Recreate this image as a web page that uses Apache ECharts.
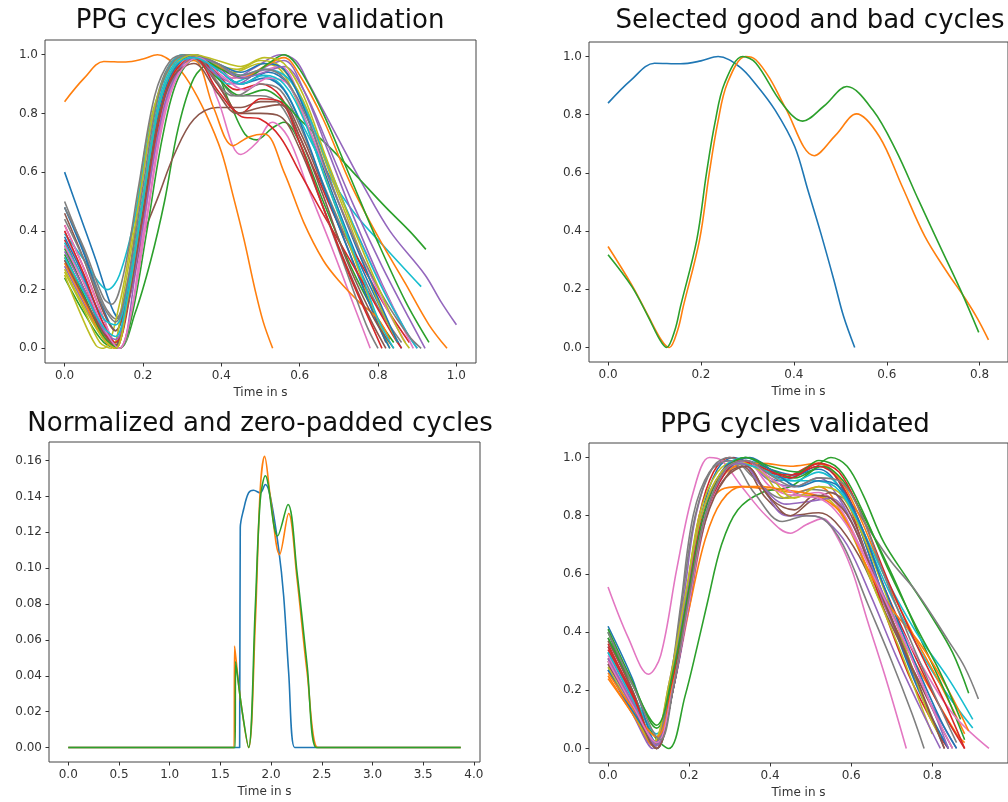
<!DOCTYPE html>
<html>
<head>
<meta charset="utf-8">
<script src="https://cdn.jsdelivr.net/npm/echarts@6/dist/echarts.min.js"></script>
<style>
  html, body { margin: 0; padding: 0; background: #fff; }
  #chart { width: 1008px; height: 802px; }
</style>
</head>
<body>
<div id="chart"></div>
<script>
// matplotlib tab10
const palette = ['#1f77b4', '#ff7f0e', '#2ca02c', '#d62728', '#9467bd', '#8c564b', '#e377c2', '#7f7f7f', '#bcbd22', '#17becf'];

const titles = ['PPG cycles before validation', 'Selected good and bad cycles', 'Normalized and zero-padded cycles', 'PPG cycles validated'];
const xName = 'Time in s';

// tick labels
const unitTicks = [0, 0.2, 0.4, 0.6, 0.8, 1.0];
const shortTicks = [0, 0.2, 0.4, 0.6, 0.8];
const paddedXTicks = [0, 0.5, 1.0, 1.5, 2.0, 2.5, 3.0, 3.5, 4.0];
const paddedYTicks = [0, 0.02, 0.04, 0.06, 0.08, 0.10, 0.12, 0.14, 0.16];

// top left: every detected cycle, [time, amplitude]
const beforeCycles = [
  [[0,0.6],[0.04,0.45],[0.08,0.3],[0.12,0.14],[0.14,0.1],[0.17,0.2],[0.2,0.45],[0.24,0.78],[0.28,0.95],[0.33,1],[0.39,0.96],[0.45,0.9],[0.52,0.94],[0.57,0.9],[0.62,0.76],[0.68,0.54],[0.75,0.3],[0.82,0.1],[0.86,0]],
  [[0,0.84],[0.05,0.92],[0.1,0.977],[0.156,0.975],[0.2,0.985],[0.237,1],[0.282,0.966],[0.318,0.905],[0.36,0.8],[0.4,0.67],[0.43,0.52],[0.458,0.37],[0.486,0.2],[0.507,0.09],[0.531,0]],
  [[0,0.24],[0.05,0.12],[0.1,0.02],[0.14,0],[0.18,0.12],[0.22,0.3],[0.255,0.5],[0.29,0.75],[0.33,0.92],[0.37,0.97],[0.42,0.84],[0.46,0.73],[0.49,0.71],[0.53,0.75],[0.56,0.77],[0.6,0.7],[0.66,0.5],[0.73,0.28],[0.8,0.1],[0.84,0.02]],
  [[0,0.42],[0.05,0.27],[0.1,0.1],[0.13,0.01],[0.16,0.15],[0.2,0.45],[0.24,0.78],[0.28,0.95],[0.33,1],[0.38,0.95],[0.44,0.88],[0.5,0.9],[0.55,0.86],[0.6,0.72],[0.64,0.6],[0.7,0.42],[0.76,0.28],[0.82,0.14],[0.88,0.02]],
  [[0,0.3],[0.05,0.17],[0.1,0.05],[0.14,0],[0.18,0.25],[0.22,0.6],[0.26,0.88],[0.31,0.99],[0.37,0.97],[0.43,0.92],[0.49,0.96],[0.55,1],[0.59,0.98],[0.62,0.91],[0.7,0.71],[0.76,0.56],[0.83,0.4],[0.92,0.25],[0.96,0.16],[1.0,0.08]],
  [[0,0.35],[0.05,0.2],[0.1,0.05],[0.13,0.01],[0.16,0.15],[0.2,0.38],[0.24,0.52],[0.28,0.66],[0.33,0.78],[0.39,0.82],[0.45,0.82],[0.5,0.84],[0.55,0.84],[0.6,0.74],[0.66,0.55],[0.72,0.35],[0.78,0.15],[0.82,0.02]],
  [[0,0.4],[0.05,0.24],[0.1,0.08],[0.14,0],[0.17,0.12],[0.21,0.45],[0.25,0.78],[0.29,0.94],[0.34,0.99],[0.39,0.85],[0.45,0.66],[0.49,0.7],[0.53,0.77],[0.57,0.72],[0.62,0.55],[0.68,0.35],[0.74,0.14],[0.78,0]],
  [[0,0.5],[0.05,0.33],[0.1,0.15],[0.13,0.1],[0.16,0.22],[0.19,0.5],[0.23,0.82],[0.27,0.97],[0.32,1],[0.38,0.94],[0.44,0.86],[0.5,0.9],[0.55,0.88],[0.6,0.76],[0.66,0.56],[0.73,0.34],[0.8,0.14],[0.86,0.02]],
  [[0,0.25],[0.04,0.12],[0.08,0.01],[0.1,0],[0.14,0.15],[0.18,0.45],[0.22,0.78],[0.27,0.96],[0.31,1],[0.37,0.98],[0.43,0.94],[0.5,0.97],[0.55,0.95],[0.6,0.82],[0.66,0.6],[0.72,0.38],[0.78,0.16],[0.83,0]],
  [[0,0.39],[0.05,0.3],[0.09,0.22],[0.11,0.2],[0.14,0.25],[0.18,0.45],[0.22,0.76],[0.26,0.94],[0.3,1],[0.36,0.97],[0.42,0.9],[0.49,0.93],[0.55,0.9],[0.6,0.78],[0.67,0.6],[0.74,0.46],[0.82,0.34],[0.91,0.21]],
  [[0,0.48],[0.05,0.32],[0.1,0.13],[0.13,0.06],[0.16,0.18],[0.2,0.5],[0.24,0.82],[0.28,0.96],[0.33,1],[0.39,0.95],[0.45,0.9],[0.51,0.92],[0.56,0.88],[0.61,0.74],[0.67,0.52],[0.74,0.28],[0.8,0.08],[0.83,0]],
  [[0,0.31],[0.05,0.17],[0.1,0.04],[0.13,0],[0.16,0.15],[0.2,0.48],[0.24,0.8],[0.28,0.95],[0.33,0.98],[0.38,0.82],[0.43,0.69],[0.47,0.72],[0.51,0.73],[0.56,0.6],[0.61,0.43],[0.66,0.3],[0.7,0.23],[0.75,0.16],[0.8,0.1],[0.83,0.03]],
  [[0,0.34],[0.05,0.2],[0.1,0.06],[0.13,0.01],[0.16,0.15],[0.2,0.45],[0.24,0.76],[0.28,0.93],[0.33,0.99],[0.39,0.92],[0.45,0.86],[0.51,0.88],[0.55,0.85],[0.6,0.78],[0.68,0.68],[0.75,0.58],[0.82,0.48],[0.88,0.4],[0.922,0.337]],
  [[0,0.37],[0.05,0.22],[0.1,0.06],[0.13,0.01],[0.17,0.2],[0.21,0.52],[0.25,0.82],[0.29,0.96],[0.34,0.99],[0.4,0.88],[0.45,0.79],[0.5,0.78],[0.55,0.72],[0.6,0.6],[0.65,0.48],[0.72,0.32],[0.78,0.18],[0.84,0.04],[0.86,0]],
  [[0,0.28],[0.05,0.15],[0.1,0.03],[0.13,0],[0.16,0.18],[0.2,0.5],[0.24,0.82],[0.28,0.96],[0.32,1],[0.38,0.94],[0.44,0.9],[0.5,0.95],[0.56,0.98],[0.61,0.88],[0.67,0.68],[0.74,0.44],[0.81,0.22],[0.87,0.06],[0.9,0]],
  [[0,0.46],[0.05,0.3],[0.1,0.12],[0.13,0.06],[0.16,0.18],[0.2,0.5],[0.24,0.8],[0.28,0.95],[0.33,0.99],[0.39,0.9],[0.45,0.8],[0.5,0.8],[0.55,0.79],[0.6,0.68],[0.66,0.48],[0.72,0.28],[0.78,0.1],[0.82,0]],
  [[0,0.42],[0.05,0.27],[0.1,0.1],[0.14,0],[0.16,0.04],[0.19,0.3],[0.23,0.66],[0.27,0.9],[0.32,0.99],[0.37,0.98],[0.43,0.92],[0.49,0.94],[0.55,0.96],[0.6,0.86],[0.66,0.66],[0.73,0.44],[0.8,0.24],[0.86,0.08],[0.89,0]],
  [[0,0.48],[0.05,0.34],[0.1,0.17],[0.12,0.15],[0.15,0.25],[0.19,0.56],[0.23,0.86],[0.27,0.98],[0.31,1],[0.37,0.94],[0.43,0.86],[0.5,0.86],[0.55,0.83],[0.6,0.7],[0.66,0.48],[0.72,0.26],[0.77,0.08],[0.8,0]],
  [[0,0.26],[0.05,0.13],[0.09,0.02],[0.12,0],[0.15,0.18],[0.19,0.5],[0.23,0.82],[0.27,0.96],[0.32,1],[0.38,0.97],[0.44,0.95],[0.5,0.98],[0.55,0.96],[0.61,0.84],[0.67,0.62],[0.74,0.38],[0.8,0.16],[0.85,0.02]],
  [[0,0.36],[0.05,0.23],[0.1,0.1],[0.13,0.08],[0.16,0.2],[0.2,0.52],[0.24,0.84],[0.28,0.97],[0.33,1],[0.39,0.96],[0.45,0.93],[0.51,0.95],[0.57,0.92],[0.62,0.8],[0.68,0.6],[0.75,0.38],[0.82,0.18],[0.88,0.04],[0.9,0]],
  [[0,0.38],[0.05,0.24],[0.1,0.08],[0.13,0.01],[0.16,0.16],[0.2,0.48],[0.24,0.8],[0.28,0.95],[0.33,1],[0.39,0.97],[0.45,0.94],[0.51,0.97],[0.56,0.95],[0.61,0.82],[0.67,0.6],[0.74,0.36],[0.81,0.14],[0.85,0.02]],
  [[0,0.29],[0.05,0.16],[0.1,0.03],[0.13,0],[0.16,0.16],[0.2,0.46],[0.24,0.78],[0.28,0.94],[0.33,0.99],[0.39,0.96],[0.45,0.92],[0.51,0.96],[0.56,0.99],[0.6,0.93],[0.66,0.78],[0.73,0.56],[0.8,0.38],[0.87,0.22],[0.93,0.08],[0.976,0]],
  [[0,0.32],[0.05,0.18],[0.1,0.04],[0.14,0],[0.17,0.1],[0.21,0.4],[0.25,0.72],[0.29,0.92],[0.34,0.99],[0.4,0.95],[0.46,0.92],[0.52,0.97],[0.56,1],[0.6,0.95],[0.66,0.8],[0.73,0.58],[0.8,0.36],[0.87,0.16],[0.93,0.02]],
  [[0,0.4],[0.05,0.25],[0.1,0.08],[0.13,0.02],[0.16,0.15],[0.2,0.46],[0.24,0.78],[0.28,0.94],[0.33,0.99],[0.39,0.88],[0.45,0.8],[0.5,0.85],[0.55,0.84],[0.6,0.7],[0.66,0.48],[0.73,0.24],[0.79,0.06],[0.81,0]],
  [[0,0.33],[0.05,0.2],[0.1,0.06],[0.13,0.03],[0.16,0.14],[0.2,0.42],[0.24,0.74],[0.28,0.92],[0.33,0.99],[0.39,0.97],[0.45,0.92],[0.51,0.94],[0.56,0.96],[0.61,0.88],[0.67,0.7],[0.74,0.48],[0.81,0.28],[0.88,0.1],[0.92,0]],
  [[0,0.3],[0.05,0.17],[0.1,0.05],[0.13,0.01],[0.16,0.14],[0.2,0.46],[0.24,0.78],[0.28,0.93],[0.33,0.97],[0.39,0.87],[0.44,0.8],[0.5,0.82],[0.55,0.83],[0.6,0.72],[0.66,0.52],[0.72,0.3],[0.79,0.1],[0.84,0]],
  [[0,0.35],[0.05,0.22],[0.1,0.07],[0.14,0],[0.17,0.12],[0.21,0.44],[0.25,0.76],[0.29,0.93],[0.34,0.99],[0.4,0.93],[0.46,0.88],[0.52,0.92],[0.57,0.9],[0.62,0.76],[0.68,0.56],[0.75,0.34],[0.82,0.14],[0.87,0.02]],
  [[0,0.44],[0.05,0.3],[0.1,0.14],[0.13,0.09],[0.16,0.22],[0.2,0.55],[0.24,0.86],[0.28,0.98],[0.33,1],[0.39,0.97],[0.45,0.93],[0.51,0.95],[0.56,0.92],[0.62,0.78],[0.68,0.56],[0.75,0.34],[0.82,0.16],[0.88,0.04],[0.91,0]],
  [[0,0.27],[0.05,0.14],[0.1,0.03],[0.13,0],[0.16,0.16],[0.2,0.5],[0.24,0.82],[0.28,0.96],[0.33,1],[0.39,0.98],[0.45,0.96],[0.51,0.99],[0.56,0.97],[0.61,0.86],[0.67,0.64],[0.74,0.4],[0.81,0.18],[0.86,0.04],[0.88,0]],
  [[0,0.31],[0.05,0.19],[0.1,0.07],[0.13,0.04],[0.16,0.17],[0.2,0.5],[0.24,0.82],[0.28,0.96],[0.33,0.99],[0.39,0.95],[0.45,0.9],[0.51,0.93],[0.56,0.9],[0.61,0.78],[0.67,0.56],[0.74,0.32],[0.8,0.1],[0.84,0]]
];

// top right: one rejected and two accepted cycles
const selectedCycles = [
  [[0,0.84],[0.05,0.92],[0.1,0.977],[0.156,0.975],[0.2,0.985],[0.237,1],[0.282,0.966],[0.318,0.905],[0.36,0.815],[0.402,0.69],[0.43,0.542],[0.458,0.393],[0.486,0.233],[0.507,0.107],[0.531,0]],
  [[0,0.347],[0.051,0.215],[0.086,0.11],[0.115,0.025],[0.132,0],[0.15,0.06],[0.162,0.141],[0.197,0.37],[0.218,0.6],[0.236,0.771],[0.257,0.909],[0.296,1],[0.318,0.989],[0.35,0.92],[0.381,0.826],[0.444,0.659],[0.49,0.73],[0.535,0.803],[0.584,0.725],[0.633,0.554],[0.682,0.382],[0.731,0.256],[0.766,0.175],[0.795,0.1],[0.819,0.026]],
  [[0,0.319],[0.051,0.21],[0.086,0.107],[0.112,0.025],[0.126,0],[0.144,0.06],[0.156,0.141],[0.191,0.37],[0.212,0.6],[0.23,0.771],[0.251,0.909],[0.29,1],[0.318,0.978],[0.374,0.84],[0.419,0.778],[0.465,0.83],[0.514,0.897],[0.57,0.816],[0.619,0.68],[0.668,0.508],[0.717,0.34],[0.759,0.197],[0.798,0.052]]
];

// bottom left: amplitude-normalized cycles padded with zeros
const paddedCycles = [
  [[0,0],[1.69,0],[1.696,0.1225],[1.73,0.133],[1.778,0.142],[1.827,0.1435],[1.893,0.142],[1.943,0.1467],[1.992,0.14],[2.074,0.111],[2.124,0.0845],[2.173,0.042],[2.232,0],[2.3,0],[3.87,0]],
  [[0,0],[1.635,0],[1.64,0.0566],[1.7,0.026],[1.778,0],[1.844,0.069],[1.893,0.144],[1.936,0.1624],[1.992,0.14],[2.084,0.1076],[2.173,0.1305],[2.256,0.094],[2.355,0.042],[2.459,0],[2.55,0],[3.87,0]],
  [[0,0],[1.645,0],[1.65,0.048],[1.71,0.022],[1.778,0],[1.844,0.078],[1.893,0.138],[1.943,0.1516],[2.064,0.118],[2.167,0.1355],[2.256,0.0975],[2.355,0.046],[2.446,0],[2.55,0],[3.87,0]]
];

// bottom right: cycles that passed validation
const validatedCycles = [
  [[0,0.33],[0.06,0.17],[0.12,0.01],[0.16,0.2],[0.195,0.5],[0.23,0.8],[0.27,0.96],[0.31,1],[0.36,0.97],[0.42,0.92],[0.52,0.96],[0.57,0.9],[0.62,0.76],[0.68,0.52],[0.76,0.22],[0.84,0]],
  [[0,0.24],[0.06,0.12],[0.11,0.01],[0.15,0.2],[0.19,0.5],[0.23,0.78],[0.28,0.89],[0.33,0.9],[0.4,0.89],[0.46,0.88],[0.52,0.9],[0.58,0.8],[0.64,0.62],[0.7,0.44],[0.78,0.24],[0.86,0.05],[0.88,0.02]],
  [[0,0.4],[0.06,0.2],[0.11,0.05],[0.15,0],[0.19,0.18],[0.22,0.35],[0.245,0.5],[0.28,0.7],[0.32,0.82],[0.38,0.88],[0.45,0.9],[0.5,0.95],[0.55,1],[0.59,0.97],[0.63,0.87],[0.68,0.71],[0.74,0.58],[0.8,0.45],[0.85,0.33],[0.89,0.19]],
  [[0,0.36],[0.06,0.18],[0.115,0.01],[0.155,0.22],[0.19,0.5],[0.225,0.8],[0.26,0.95],[0.3,1],[0.35,0.98],[0.43,0.93],[0.52,0.98],[0.56,0.94],[0.6,0.82],[0.66,0.56],[0.74,0.26],[0.82,0.04],[0.84,0]],
  [[0,0.27],[0.06,0.12],[0.11,0],[0.15,0.22],[0.185,0.5],[0.22,0.82],[0.27,0.98],[0.33,0.99],[0.4,0.92],[0.46,0.9],[0.52,0.93],[0.57,0.86],[0.62,0.72],[0.68,0.5],[0.75,0.28],[0.81,0.12],[0.86,0]],
  [[0,0.31],[0.06,0.15],[0.12,0.01],[0.16,0.22],[0.2,0.52],[0.24,0.82],[0.29,0.96],[0.33,0.97],[0.39,0.86],[0.45,0.8],[0.52,0.81],[0.56,0.78],[0.62,0.66],[0.68,0.48],[0.75,0.28],[0.82,0.08],[0.85,0]],
  [[0,0.555],[0.05,0.38],[0.1,0.255],[0.13,0.32],[0.17,0.62],[0.21,0.88],[0.25,1],[0.28,0.99],[0.33,0.9],[0.39,0.8],[0.45,0.74],[0.49,0.77],[0.53,0.79],[0.56,0.74],[0.6,0.62],[0.64,0.44],[0.69,0.22],[0.736,0]],
  [[0,0.38],[0.06,0.2],[0.12,0.01],[0.15,0.18],[0.18,0.48],[0.215,0.8],[0.26,0.97],[0.3,1],[0.36,0.93],[0.43,0.86],[0.5,0.89],[0.55,0.88],[0.6,0.84],[0.65,0.74],[0.7,0.64],[0.76,0.54],[0.84,0.37],[0.88,0.28],[0.914,0.17]],
  [[0,0.3],[0.06,0.15],[0.12,0],[0.155,0.2],[0.19,0.5],[0.225,0.8],[0.27,0.95],[0.32,0.99],[0.38,0.95],[0.44,0.86],[0.5,0.87],[0.55,0.85],[0.6,0.74],[0.66,0.54],[0.72,0.34],[0.78,0.12],[0.8,0.05]],
  [[0,0.35],[0.06,0.19],[0.12,0.05],[0.16,0.23],[0.2,0.5],[0.24,0.8],[0.29,0.97],[0.34,1],[0.4,0.95],[0.46,0.92],[0.52,0.95],[0.57,0.9],[0.62,0.77],[0.69,0.55],[0.76,0.36],[0.83,0.2],[0.9,0.07]],
  [[0,0.42],[0.06,0.24],[0.12,0.02],[0.16,0.22],[0.2,0.52],[0.24,0.82],[0.29,0.97],[0.34,0.99],[0.4,0.96],[0.46,0.94],[0.52,0.97],[0.56,0.94],[0.61,0.8],[0.67,0.56],[0.74,0.3],[0.8,0.1],[0.84,0]],
  [[0,0.25],[0.06,0.12],[0.11,0.02],[0.15,0.2],[0.19,0.48],[0.23,0.76],[0.28,0.93],[0.34,0.98],[0.38,0.98],[0.45,0.97],[0.52,0.98],[0.57,0.93],[0.62,0.8],[0.68,0.6],[0.75,0.4],[0.82,0.22],[0.88,0.05]],
  [[0,0.41],[0.06,0.23],[0.12,0.07],[0.16,0.24],[0.2,0.52],[0.24,0.8],[0.29,0.96],[0.34,1],[0.4,0.96],[0.46,0.93],[0.53,0.97],[0.58,0.92],[0.63,0.8],[0.7,0.6],[0.77,0.38],[0.83,0.2],[0.88,0.03]],
  [[0,0.34],[0.06,0.18],[0.12,0],[0.15,0.16],[0.19,0.48],[0.23,0.78],[0.28,0.95],[0.33,0.99],[0.39,0.95],[0.45,0.94],[0.52,0.97],[0.57,0.92],[0.62,0.78],[0.68,0.56],[0.75,0.34],[0.82,0.14],[0.88,0]],
  [[0,0.29],[0.06,0.14],[0.115,0.01],[0.15,0.2],[0.19,0.5],[0.23,0.8],[0.28,0.95],[0.33,0.98],[0.38,0.9],[0.44,0.8],[0.5,0.8],[0.54,0.78],[0.59,0.7],[0.65,0.52],[0.71,0.32],[0.77,0.14],[0.82,0]],
  [[0,0.37],[0.06,0.2],[0.12,0],[0.16,0.2],[0.2,0.52],[0.24,0.8],[0.3,0.95],[0.34,0.97],[0.39,0.88],[0.45,0.8],[0.5,0.85],[0.55,0.88],[0.6,0.8],[0.66,0.58],[0.73,0.34],[0.8,0.1],[0.83,0]],
  [[0,0.32],[0.06,0.16],[0.12,0.01],[0.16,0.2],[0.2,0.48],[0.24,0.78],[0.29,0.95],[0.34,0.99],[0.4,0.9],[0.46,0.87],[0.52,0.88],[0.57,0.83],[0.62,0.7],[0.68,0.52],[0.76,0.32],[0.85,0.12],[0.94,0]],
  [[0,0.3],[0.06,0.15],[0.115,0.01],[0.15,0.2],[0.18,0.5],[0.21,0.8],[0.25,0.95],[0.3,0.99],[0.36,0.88],[0.43,0.78],[0.49,0.8],[0.53,0.79],[0.58,0.7],[0.64,0.5],[0.7,0.3],[0.75,0.12],[0.78,0]],
  [[0,0.28],[0.06,0.13],[0.11,0.02],[0.15,0.22],[0.19,0.52],[0.23,0.8],[0.28,0.95],[0.33,0.98],[0.4,0.93],[0.46,0.86],[0.52,0.9],[0.57,0.88],[0.62,0.76],[0.68,0.55],[0.74,0.32],[0.79,0.12],[0.82,0.04]],
  [[0,0.33],[0.06,0.17],[0.12,0],[0.16,0.2],[0.2,0.52],[0.24,0.82],[0.29,0.96],[0.32,0.98],[0.38,0.96],[0.44,0.92],[0.5,0.92],[0.56,0.9],[0.61,0.8],[0.68,0.6],[0.76,0.4],[0.84,0.24],[0.9,0.1]],
  [[0,0.27],[0.06,0.13],[0.12,0.02],[0.16,0.2],[0.2,0.5],[0.24,0.8],[0.29,0.95],[0.35,1],[0.41,0.95],[0.47,0.9],[0.52,0.92],[0.57,0.9],[0.62,0.78],[0.68,0.56],[0.75,0.32],[0.82,0.1],[0.86,0]],
  [[0,0.26],[0.06,0.14],[0.12,0.04],[0.16,0.22],[0.2,0.48],[0.24,0.72],[0.28,0.85],[0.33,0.9],[0.38,0.9],[0.43,0.89],[0.48,0.88],[0.53,0.86],[0.58,0.8],[0.64,0.62],[0.7,0.48],[0.77,0.36],[0.84,0.2],[0.89,0.06]],
  [[0,0.38],[0.06,0.22],[0.12,0.08],[0.16,0.26],[0.2,0.55],[0.24,0.82],[0.29,0.96],[0.34,1],[0.4,0.97],[0.47,0.95],[0.52,0.99],[0.57,0.96],[0.62,0.84],[0.69,0.62],[0.76,0.42],[0.82,0.26],[0.87,0.1]],
  [[0,0.35],[0.06,0.19],[0.12,0],[0.16,0.2],[0.2,0.52],[0.24,0.8],[0.29,0.95],[0.33,0.99],[0.39,0.96],[0.45,0.93],[0.52,0.98],[0.57,0.95],[0.62,0.82],[0.69,0.58],[0.76,0.36],[0.83,0.16],[0.88,0]],
  [[0,0.31],[0.06,0.16],[0.12,0.01],[0.16,0.2],[0.2,0.5],[0.24,0.8],[0.29,0.96],[0.33,0.98],[0.38,0.9],[0.44,0.84],[0.5,0.85],[0.55,0.86],[0.6,0.78],[0.67,0.56],[0.74,0.34],[0.8,0.14],[0.84,0]],
  [[0,0.29],[0.06,0.15],[0.12,0],[0.16,0.2],[0.2,0.5],[0.24,0.78],[0.29,0.93],[0.34,0.97],[0.4,0.86],[0.46,0.82],[0.51,0.87],[0.55,0.86],[0.6,0.78],[0.66,0.58],[0.72,0.38],[0.79,0.14],[0.83,0]],
  [[0,0.3],[0.06,0.15],[0.12,0.02],[0.16,0.21],[0.2,0.5],[0.24,0.8],[0.29,0.96],[0.34,0.99],[0.4,0.93],[0.47,0.87],[0.52,0.86],[0.56,0.82],[0.61,0.72],[0.68,0.52],[0.74,0.34],[0.8,0.14],[0.85,0]],
  [[0,0.4],[0.06,0.22],[0.13,0.03],[0.16,0.2],[0.2,0.52],[0.24,0.8],[0.29,0.96],[0.34,0.99],[0.4,0.94],[0.46,0.9],[0.52,0.93],[0.57,0.92],[0.62,0.82],[0.68,0.6],[0.75,0.36],[0.82,0.14],[0.86,0.02]]
];

const font = 'DejaVu Sans';

// one box per panel, in pixels (matplotlib frame incl. margins)
const boxes = [
  { left: 45, top: 40, width: 431, height: 323 },
  { left: 589, top: 42, width: 429, height: 320 },
  { left: 49, top: 442, width: 431, height: 320 },
  { left: 589, top: 443, width: 430, height: 320 }
];
const titlePos = [[255, 3], [805, 3], [255, 406], [790, 407]];

const xRanges = [[-0.05, 1.05], [-0.041, 0.861], [-0.19, 4.06], [-0.047, 0.987]];
const yRanges = [[-0.05, 1.05], [-0.05, 1.05], [-0.0081, 0.1704], [-0.05, 1.05]];
const xTicks = [unitTicks, shortTicks, paddedXTicks, shortTicks];
const yTicks = [unitTicks, unitTicks, paddedYTicks, unitTicks];
const xDigits = [1, 1, 1, 1];
const yDigits = [1, 1, 2, 1];

const panels = [beforeCycles, selectedCycles, paddedCycles, validatedCycles];

const tickStyle = (ticks) => ({ show: true, length: 3.5, customValues: ticks, lineStyle: { color: '#333', width: 1 } });
const labelStyle = (ticks, digits) => ({
  customValues: ticks,
  color: '#333',
  fontFamily: font,
  fontSize: 12,
  margin: 7,
  formatter: (v) => v.toFixed(digits)
});

const series = [];
panels.forEach((cycles, p) => {
  cycles.forEach((pts, i) => {
    series.push({
      type: 'line',
      xAxisIndex: p,
      yAxisIndex: p,
      data: pts,
      smooth: 0.35,
      showSymbol: false,
      symbol: 'none',
      silent: true,
      lineStyle: { width: 1.6, color: palette[i % palette.length] }
    });
  });
});

const chart = echarts.init(document.getElementById('chart'), null, { renderer: 'canvas' });
chart.setOption({
  animation: false,
  backgroundColor: '#fff',
  title: titles.map((t, i) => ({
    text: t,
    left: titlePos[i][0],
    top: titlePos[i][1],
    textAlign: 'center',
    textStyle: { fontFamily: font, fontSize: 26, fontWeight: 'normal', color: '#111' }
  })),
  grid: boxes.map((b) => ({ ...b, show: true, borderColor: '#444', borderWidth: 1, backgroundColor: '#fff', containLabel: false })),
  xAxis: boxes.map((b, i) => ({
    type: 'value',
    gridIndex: i,
    min: xRanges[i][0],
    max: xRanges[i][1],
    position: 'bottom',
    axisLine: { show: false, onZero: false },
    splitLine: { show: false },
    axisTick: tickStyle(xTicks[i]),
    axisLabel: labelStyle(xTicks[i], xDigits[i]),
    name: xName,
    nameLocation: 'middle',
    nameGap: 24,
    nameTextStyle: { fontFamily: font, fontSize: 12, color: '#333' }
  })),
  yAxis: boxes.map((b, i) => ({
    type: 'value',
    gridIndex: i,
    min: yRanges[i][0],
    max: yRanges[i][1],
    position: 'left',
    axisLine: { show: false, onZero: false },
    splitLine: { show: false },
    axisTick: tickStyle(yTicks[i]),
    axisLabel: labelStyle(yTicks[i], yDigits[i])
  })),
  series: series
});
</script>
</body>
</html>
